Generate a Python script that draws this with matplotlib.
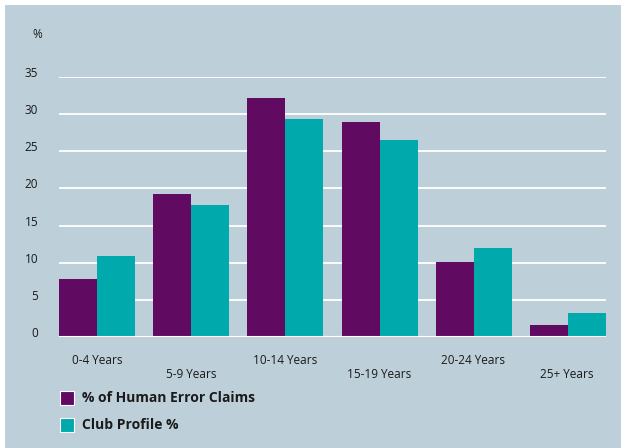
import matplotlib
matplotlib.use("Agg")
import matplotlib.pyplot as plt
from matplotlib.patches import Rectangle
import numpy as np

categories = ["0-4 Years", "5-9 Years", "10-14 Years", "15-19 Years", "20-24 Years", "25+ Years"]
human_error = [7.8, 19.2, 32.2, 28.9, 10.1, 1.6]
club_profile = [10.9, 17.8, 29.3, 26.5, 12.0, 3.2]
series_names = ["% of Human Error Claims", "Club Profile %"]
yticks = [0, 5, 10, 15, 20, 25, 30, 35]

purple = "#600a62"
teal = "#00a9ac"
bg = "#bdcfd9"
txt = "#1a1a1a"

plt.rcParams['font.family'] = ['Open Sans', 'DejaVu Sans']

W, H = 621, 448
fig = plt.figure(figsize=(W/100, H/100), dpi=100)
fig.patch.set_facecolor("white")
bgax = fig.add_axes([5/W, 0, 1 - 5/W, 1 - 5/H], zorder=-10)
bgax.set_facecolor(bg)
bgax.axis("off")
bgax.add_patch(Rectangle((0, 0), 1, 1, transform=bgax.transAxes, facecolor=bg, edgecolor="none"))

ax_left, ax_right = 59/W, 606/W
ax_bottom, ax_top = 1 - 337/H, 1 - 77/H
ax = fig.add_axes([ax_left, ax_bottom, ax_right - ax_left, ax_top - ax_bottom], zorder=1)
ax.set_facecolor("none")

n = len(categories)
x = np.arange(n)
bw = 38/94
ax.bar(x - bw/2, human_error, width=bw, color=purple, zorder=3)
ax.bar(x + bw/2, club_profile, width=bw, color=teal, zorder=3)
ax.set_xlim(-0.5 + (1 - 2*bw)/2, n - 0.5 - (1 - 2*bw)/2)
ax.set_ylim(0, 35)

for s in ax.spines.values():
    s.set_visible(False)
ax.set_yticks(yticks)
ax.yaxis.grid(True, color="white", linewidth=1.3, zorder=1)
ax.set_axisbelow(True)
ax.tick_params(axis="y", length=0, pad=15, labelsize=8.5, labelcolor=txt)
ax.set_yticklabels([str(t) for t in yticks], va="baseline")
ax.axhline(0, color="white", linewidth=1.5, zorder=4)

ax.set_xticks([])
for i, c in enumerate(categories):
    yoff = 360 if i % 2 == 0 else 375
    fig.text((59 + 94*i + 38)/W, 1 - yoff/H, c, ha="center", va="center",
             fontsize=8.5, color=txt, zorder=5)

fig.text(37/W, 1 - 34/H, "%", ha="center", va="center", fontsize=8.5, color=txt)

for k, (name, col) in enumerate(zip(series_names, [purple, teal])):
    yc = 398 + 27*k
    fig.patches.append(Rectangle((60/W, 1 - (yc + 7)/H), 14/W, 14/H,
                                 transform=fig.transFigure, facecolor=col,
                                 edgecolor="white", linewidth=0.8, zorder=2))
    fig.text(82/W, 1 - yc/H, name, ha="left", va="center", fontsize=10,
             fontweight="bold", color=txt)

fig.savefig("out.png", dpi=100, facecolor=fig.get_facecolor())
